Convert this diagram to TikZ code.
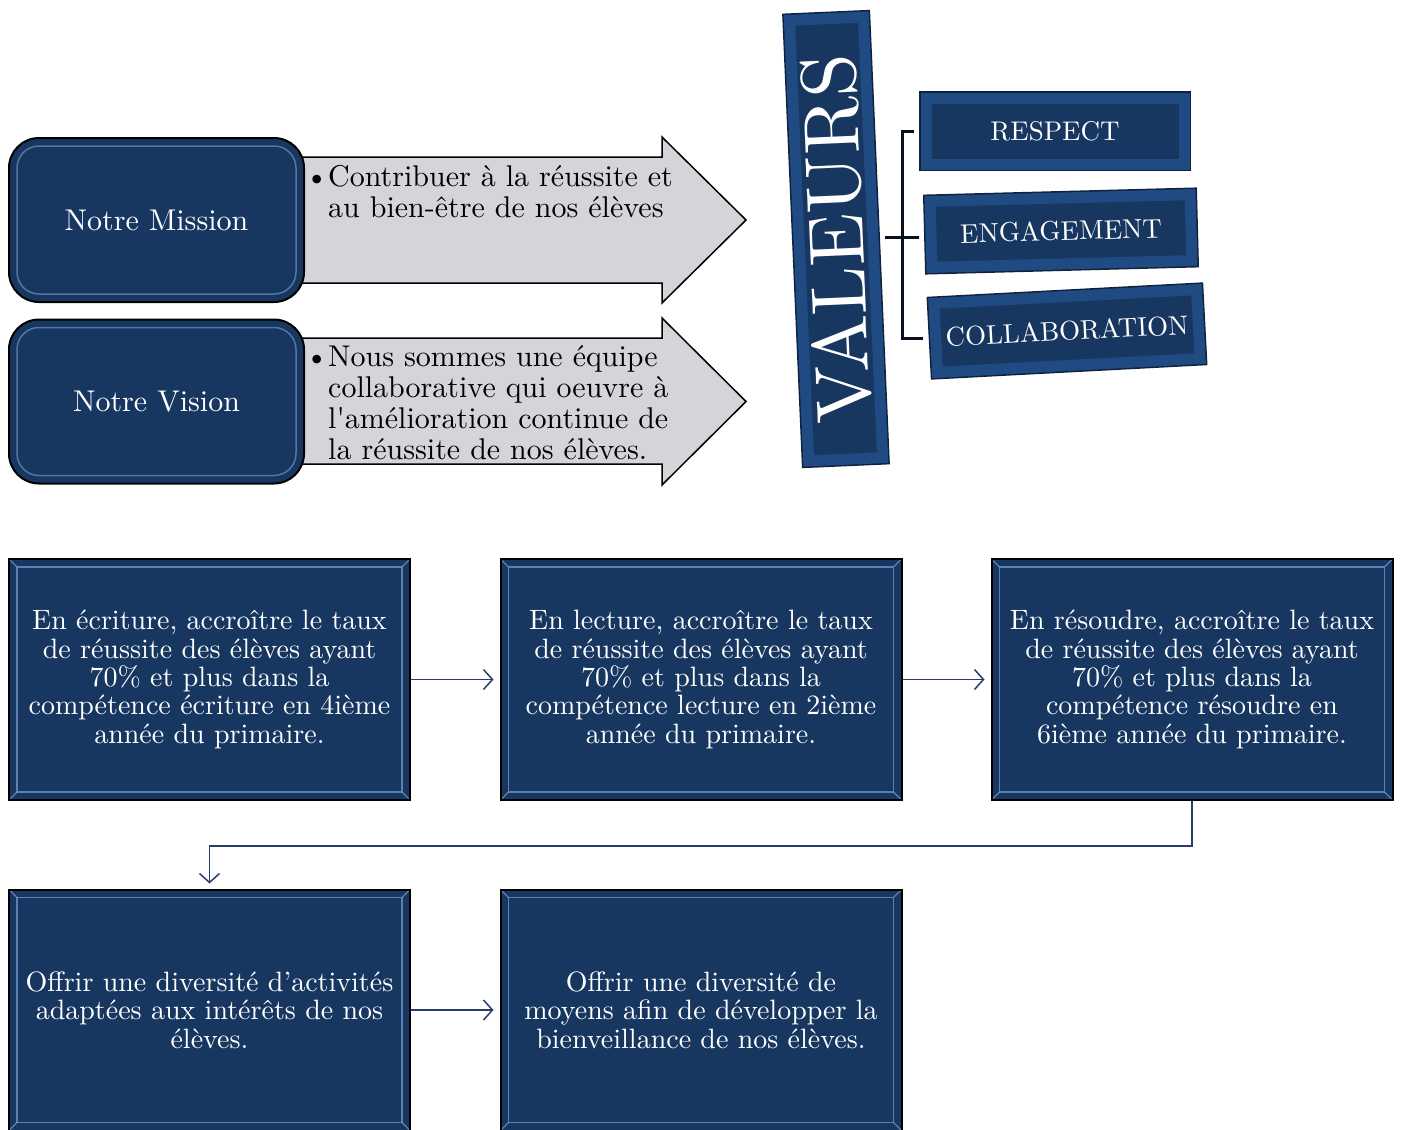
\documentclass[tikz,border=0pt]{standalone}
\usepackage{fontspec}
\setmainfont{lmroman10-regular.otf}
\usepackage{tikz}
\usetikzlibrary{arrows.meta}
\definecolor{navy}{RGB}{23,55,96}
\definecolor{bevelblue}{RGB}{32,74,130}
\definecolor{bevelrim}{RGB}{14,34,62}
\definecolor{glint}{RGB}{125,160,210}
\definecolor{arrowgray}{RGB}{211,213,217}
\definecolor{linkblue}{RGB}{38,62,105}
\newcommand\tilefont{\fontsize{28}{28.4}\selectfont}
\newcommand\panelfont{\fontsize{30}{31}\selectfont}
\newcommand\plankfont{\fontsize{27}{28}\selectfont}
\newcommand\bulletmark{\makebox[23pt][l]{\textbullet}}
\tikzset{panel/.style={fill=navy, draw=black, line width=2pt, rounded corners=30pt, text=white, font=\panelfont, minimum width=295pt, minimum height=164pt,
    path picture={\draw[glint, line width=1.5pt, rounded corners=22pt, opacity=.6] ([xshift=8pt,yshift=-8pt]path picture bounding box.north west) rectangle ([xshift=-8pt,yshift=8pt]path picture bounding box.south east);}},
  banner/.style={fill=arrowgray, draw=black, line width=1.5pt},
  tile/.style={fill=navy, draw=black, line width=2pt, text=white, align=center, font=\tilefont, minimum width=401pt, minimum height=241pt,
    path picture={\draw[glint, line width=1.2pt, opacity=.7] ([xshift=8pt,yshift=-8pt]path picture bounding box.north west) rectangle ([xshift=-8pt,yshift=8pt]path picture bounding box.south east);
      \foreach \c/\dx/\dy in {north west/8/-8, north east/-8/-8, south east/-8/8, south west/8/8}
        \draw[glint, line width=1.2pt, opacity=.7] (path picture bounding box.\c) -- ([xshift=\dx pt,yshift=\dy pt]path picture bounding box.\c);}},
  plank/.style={fill=navy, draw=bevelblue, line width=11pt, preaction={draw=bevelrim, line width=14pt}, text=white, font=\plankfont},
  link/.style={draw=linkblue, line width=1.5pt, -{Straight Barb[length=9pt,width=20pt]}},
  stem/.style={draw=black!70!navy, line width=3pt}}

\begin{document}
\begin{tikzpicture}[x=1pt,y=-1pt]
  \useasboundingbox (0,0) rectangle (1401,1130);
  \draw[banner] (290,157) -- (662,157) -- (662,137) -- (746,220) -- (662,303) -- (662,283) -- (290,283) -- cycle;
  \draw[banner] (290,338) -- (662,338) -- (662,318) -- (746,401.5) -- (662,485) -- (662,464) -- (290,464) -- cycle;
  \node[panel] (mission) at (156.5,220) {Notre Mission};
  \node[panel] (vision) at (156.5,401.5) {Notre Vision};
  \node[anchor=base west, font=\panelfont, inner sep=0pt] (missiontext) at (305,186)
    {\begin{tabular}[t]{@{}l@{}l@{}}\bulletmark & Contribuer à la réussite et\\ & au bien-être de nos élèves\end{tabular}};
  \node[anchor=base west, font=\panelfont, inner sep=0pt] (visiontext) at (305,366)
    {\begin{tabular}[t]{@{}l@{}l@{}}\bulletmark & Nous sommes une équipe\\ & collaborative qui oeuvre à\\ & l\textquotesingle amélioration continue de\\ & la réussite de nos élèves.\end{tabular}};

  \node[plank, rotate=92.5, minimum width=441pt, minimum height=74pt, font=\fontsize{78}{80}\selectfont] (valeurs) at (836,239) {VALEURS};
  \node[plank, minimum width=258pt, minimum height=66pt] (respect) at (1055,131) {RESPECT};
  \node[plank, rotate=1.5, minimum width=260pt, minimum height=66pt] (engage) at (1061,231) {ENGAGEMENT};
  \node[plank, rotate=3, minimum width=263pt, minimum height=69pt] (collab) at (1067,331) {COLLABORATION};
  \draw[stem, shorten <=7pt] (valeurs.south) -- ++(24,0) coordinate (hub);
  \draw[stem, shorten <=7pt, shorten >=7pt] (respect.west) -| (hub) |- (collab.west);
  \draw[stem, shorten >=7pt] (hub) -- (hub -| engage.west);

  \node[tile] (goal1) at (209.5,679.5) {En écriture, accroître le taux\\de réussite des élèves ayant\\70\% et plus dans la\\compétence écriture en 4ième\\année du primaire.};
  \node[tile] (goal2) at (701,679.5) {En lecture, accroître le taux\\de réussite des élèves ayant\\70\% et plus dans la\\compétence lecture en 2ième\\année du primaire.};
  \node[tile] (goal3) at (1192,679.5) {En résoudre, accroître le taux\\de réussite des élèves ayant\\70\% et plus dans la\\compétence résoudre en\\6ième année du primaire.};
  \node[tile] (goal4) at (209.5,1010) {Offrir une diversité d’activités\\adaptées aux intérêts de nos\\élèves.};
  \node[tile] (goal5) at (701,1010) {Offrir une diversité de\\moyens afin de développer la\\bienveillance de nos élèves.};
  \draw[link, shorten >=6pt] (goal1) -- (goal2);
  \draw[link, shorten >=6pt] (goal2) -- (goal3);
  \draw[link, shorten >=5pt] (goal3.south) -- ++(0,45) -| (goal4.north);
  \draw[link, shorten >=6pt] (goal4) -- (goal5);
\end{tikzpicture}
\end{document}
